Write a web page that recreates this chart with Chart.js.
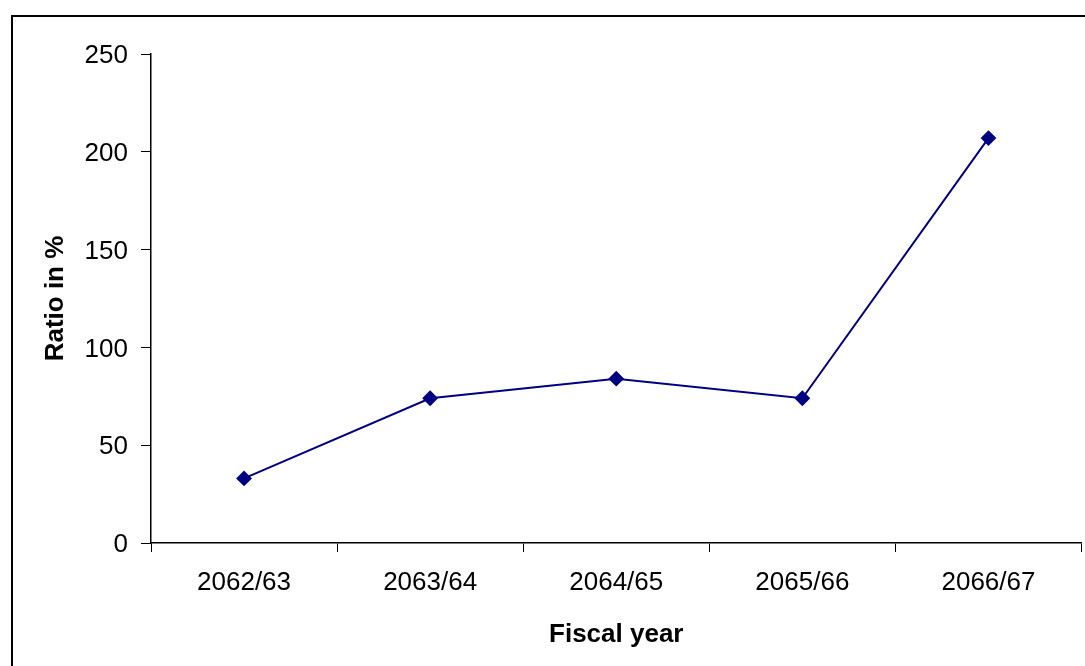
<!DOCTYPE html>
<html lang="en">
<head>
    <meta charset="UTF-8">
    <title>Ratio by fiscal year</title>
    <style>
        html, body {
            margin: 0;
            padding: 0;
            background: #fff;
            overflow: hidden;
        }
        .frame {
            position: absolute;
            left: 11px;
            top: 15px;
            width: 2000px;
            height: 2000px;
            border-left: 2px solid #000;
            border-top: 2px solid #000;
        }
        .chart-box {
            position: absolute;
            left: 0;
            top: 0;
            width: 1095px;
            height: 666px;
        }
    </style>
</head>
<body>
    <div class="frame"></div>
    <div class="chart-box">
        <canvas id="ratioChart" width="1090" height="666"></canvas>
    </div>

    <script src="https://cdn.jsdelivr.net/npm/chart.js"></script>
    <script>
        // data
        const fiscalYears = ['2062/63', '2063/64', '2064/65', '2065/66', '2066/67'];
        const ratioValues = [33, 74, 84, 74, 207];
        const yTicks = [0, 50, 100, 150, 200, 250];

        const font = 'Liberation Sans, Arial, sans-serif';

        new Chart(document.getElementById('ratioChart'), {
            type: 'line',
            data: {
                labels: fiscalYears,
                datasets: [{
                    label: 'Ratio',
                    data: ratioValues,
                    borderColor: '#000080',
                    backgroundColor: '#000080',
                    borderWidth: 2,
                    pointStyle: 'rectRot',
                    pointRadius: 6.5,
                    pointHoverRadius: 6.5,
                    tension: 0
                }]
            },
            options: {
                responsive: false,
                animation: false,
                layout: {
                    padding: { left: 0, right: 0, top: 54, bottom: 0 }
                },
                plugins: {
                    legend: { display: false },
                    tooltip: { enabled: false }
                },
                scales: {
                    x: {
                        offset: true,
                        grid: {
                            offset: true,
                            drawOnChartArea: false,
                            drawTicks: true,
                            tickLength: 9,
                            color: '#000'
                        },
                        border: { color: '#000', width: 1.5 },
                        ticks: {
                            color: '#000',
                            font: { family: font, size: 26 },
                            padding: 15,
                            maxRotation: 0
                        },
                        title: {
                            display: true,
                            text: 'Fiscal year',
                            color: '#000',
                            font: { family: font, size: 26, weight: 'bold' },
                            padding: { top: 0, bottom: 16 }
                        },
                        afterFit: function (scale) { scale.height = 123; }
                    },
                    y: {
                        min: 0,
                        max: 250,
                        afterBuildTicks: function (scale) {
                            scale.ticks = yTicks.map(v => ({ value: v }));
                        },
                        grid: {
                            drawOnChartArea: false,
                            drawTicks: true,
                            tickLength: 10,
                            color: '#000'
                        },
                        border: { color: '#000', width: 1.5 },
                        ticks: {
                            color: '#000',
                            font: { family: font, size: 26 },
                            padding: 13,
                            labelOffset: 2
                        },
                        title: {
                            display: true,
                            text: 'Ratio in %',
                            color: '#000',
                            font: { family: font, size: 26, weight: 'bold' },
                            padding: { top: 40, bottom: 0 }
                        },
                        afterFit: function (scale) { scale.width = 151; }
                    }
                }
            }
        });
    </script>
</body>
</html>
